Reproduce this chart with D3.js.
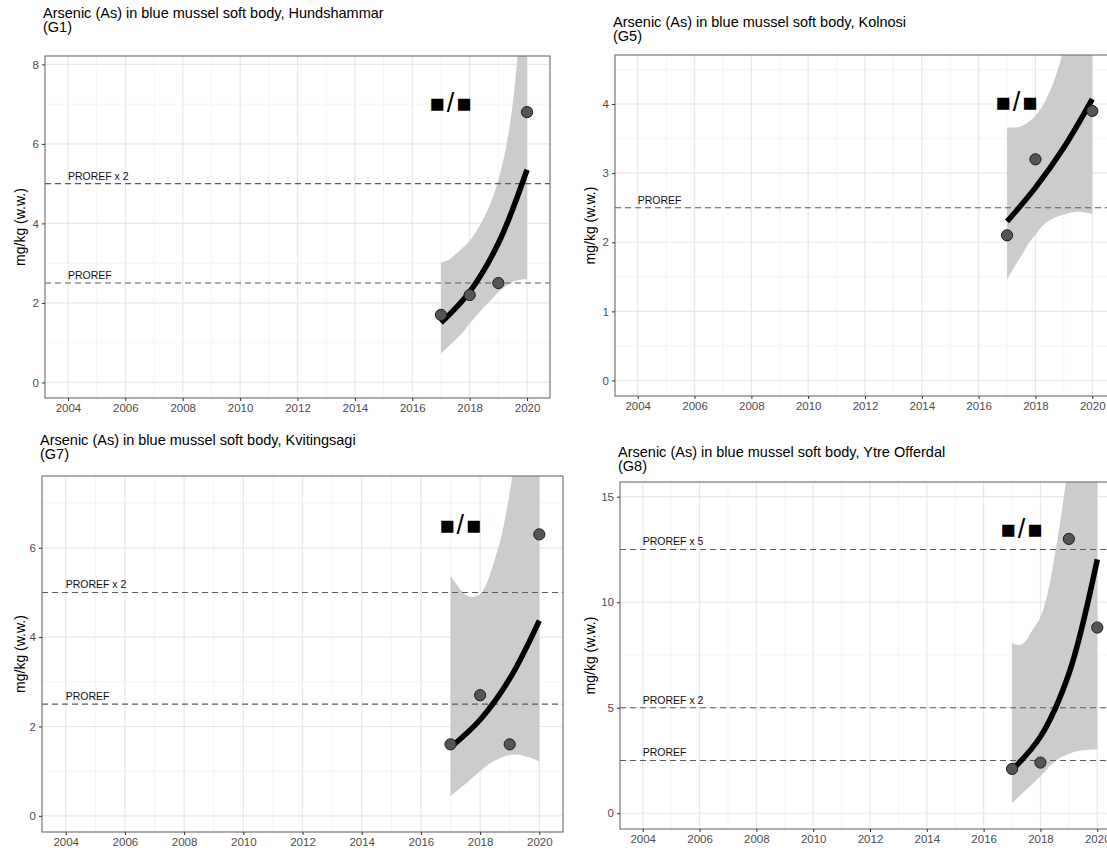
<!DOCTYPE html>
<html>
<head>
<meta charset="utf-8">
<script src="https://cdn.jsdelivr.net/npm/d3@7"></script>
<style>
  body { margin: 0; background: #fff; }
  svg text { font-family: "Liberation Sans", Arial, sans-serif; }
</style>
</head>
<body>
<svg id="chart" width="1107" height="848"></svg>
<script>
// ---- data -------------------------------------------------------------
const stationNames = ["Hundshammar", "Kolnosi", "Kvitingsagi", "Ytre Offerdal"];
const stationCodes = ["G1", "G5", "G7", "G8"];
const sampleYears = [2017, 2018, 2019, 2020];

// measured arsenic concentrations, mg/kg w.w. (null = no sample)
const arsenicG1 = [1.7, 2.2, 2.5, 6.8];
const arsenicG5 = [2.1, 3.2, null, 3.9];
const arsenicG7 = [1.6, 2.7, 1.6, 6.3];
const arsenicG8 = [2.1, 2.4, 13.0, 8.8];

// fitted trend at each sample year
const trendG1 = [1.50, 2.28, 3.50, 5.35];
const trendG5 = [2.30, 2.79, 3.37, 4.07];
const trendG7 = [1.53, 2.15, 3.07, 4.37];
const trendG8 = [2.05, 3.63, 6.61, 12.03];

// confidence band of the trend
const bandYears = [2017, 2017.25, 2017.5, 2017.75, 2018, 2018.25, 2018.5, 2018.75, 2019, 2019.25, 2019.5, 2019.75, 2020];
const bandLowG1  = [0.73, 0.90, 1.07, 1.25, 1.48, 1.69, 1.89, 2.08, 2.27, 2.42, 2.53, 2.58, 2.60];
const bandHighG1 = [3.02, 3.08, 3.22, 3.38, 3.56, 3.82, 4.14, 4.55, 5.10, 5.85, 7.00, 8.90, 11.5];
const bandLowG5  = [1.46, 1.64, 1.80, 1.98, 2.11, 2.24, 2.32, 2.37, 2.40, 2.43, 2.44, 2.43, 2.41];
const bandHighG5 = [3.66, 3.66, 3.68, 3.74, 3.83, 3.97, 4.18, 4.45, 4.80, 5.20, 5.70, 6.20, 6.80];
const bandLowG7  = [0.44, 0.58, 0.71, 0.86, 1.00, 1.13, 1.24, 1.31, 1.36, 1.37, 1.34, 1.29, 1.22];
const bandHighG7 = [5.38, 5.14, 4.95, 4.90, 4.96, 5.25, 5.75, 6.35, 7.23, 8.40, 9.80, 11.5, 13.5];
const bandLowG8  = [0.49, 0.80, 1.12, 1.43, 1.75, 2.12, 2.45, 2.66, 2.82, 2.93, 2.98, 3.01, 3.02];
const bandHighG8 = [8.07, 7.97, 8.20, 8.75, 9.30, 10.4, 12.2, 14.3, 16.8, 19.5, 22.5, 26.0, 30.0];

// reference levels (PROREF multiples) shown in each panel
const prorefLevelsG1 = [2.5, 5.0];
const prorefLevelsG5 = [2.5];
const prorefLevelsG7 = [2.5, 5.0];
const prorefLevelsG8 = [2.5, 5.0, 12.5];
const prorefLabels = { 2.5: "PROREF", 5.0: "PROREF x 2", 12.5: "PROREF x 5" };

// axis ticks
const xTickYears = [2004, 2006, 2008, 2010, 2012, 2014, 2016, 2018, 2020];
const yTicksG1 = [0, 2, 4, 6, 8];
const yTicksG5 = [0, 1, 2, 3, 4];
const yTicksG7 = [0, 2, 4, 6];
const yTicksG8 = [0, 5, 10, 15];

// y-axis upper data limit of each panel, and the trend-symbol anchor
const yMaxG1 = 7.82, yMaxG5 = 4.485, yMaxG7 = 7.245, yMaxG8 = 14.95;
const trendSymbolParts = ["\u25A0", "/", "\u25A0"];
const symbolYear = 2017.33;

// ---- panel layout -----------------------------------------------------
const panels = [
  { code: 0, values: arsenicG1, trend: trendG1, low: bandLowG1, high: bandHighG1, refs: prorefLevelsG1, yTicks: yTicksG1, yMax: yMaxG1,
    box: { left: 45, right: 550, top: 56, bottom: 398 }, titleGap: 24, yTitleX: 20 },
  { code: 1, values: arsenicG5, trend: trendG5, low: bandLowG5, high: bandHighG5, refs: prorefLevelsG5, yTicks: yTicksG5, yMax: yMaxG5,
    box: { left: 615, right: 1115, top: 55, bottom: 396 }, titleGap: 14, yTitleX: 590 },
  { code: 2, values: arsenicG7, trend: trendG7, low: bandLowG7, high: bandHighG7, refs: prorefLevelsG7, yTicks: yTicksG7, yMax: yMaxG7,
    box: { left: 42, right: 563, top: 476, bottom: 832 }, titleGap: 17, yTitleX: 20 },
  { code: 3, values: arsenicG8, trend: trendG8, low: bandLowG8, high: bandHighG8, refs: prorefLevelsG8, yTicks: yTicksG8, yMax: yMaxG8,
    box: { left: 620, right: 1120, top: 482, bottom: 829 }, titleGap: 11, yTitleX: 590 }
];

const svg = d3.select("#chart");
svg.append("rect").attr("width", 1107).attr("height", 848).attr("fill", "#fff");

panels.forEach((p, i) => {
  const b = p.box;
  const x = d3.scaleLinear().domain([2003.2, 2020.8]).range([b.left, b.right]);
  const y = d3.scaleLinear().domain([-0.05 * p.yMax, 1.05 * p.yMax]).range([b.bottom, b.top]);
  const g = svg.append("g");

  const clipId = "clip" + i;
  svg.append("clipPath").attr("id", clipId)
    .append("rect").attr("x", b.left).attr("y", b.top)
    .attr("width", b.right - b.left).attr("height", b.bottom - b.top);

  // grid: minor lines half way between the major ones
  const yStep = p.yTicks[1] - p.yTicks[0];
  const yMinor = d3.range(p.yTicks[0] + yStep / 2, y.domain()[1], yStep);
  const xMinor = d3.range(2005, 2020, 2);
  const grid = g.append("g").attr("clip-path", `url(#${clipId})`);
  grid.selectAll(".xm").data(xMinor).join("line")
    .attr("x1", d => x(d)).attr("x2", d => x(d)).attr("y1", b.top).attr("y2", b.bottom)
    .attr("stroke", "#f1f1f1").attr("stroke-width", 0.8);
  grid.selectAll(".ym").data(yMinor).join("line")
    .attr("x1", b.left).attr("x2", b.right).attr("y1", d => y(d)).attr("y2", d => y(d))
    .attr("stroke", "#f1f1f1").attr("stroke-width", 0.8);
  grid.selectAll(".xM").data(xTickYears).join("line")
    .attr("x1", d => x(d)).attr("x2", d => x(d)).attr("y1", b.top).attr("y2", b.bottom)
    .attr("stroke", "#e8e8e8").attr("stroke-width", 1.2);
  grid.selectAll(".yM").data(p.yTicks).join("line")
    .attr("x1", b.left).attr("x2", b.right).attr("y1", d => y(d)).attr("y2", d => y(d))
    .attr("stroke", "#e8e8e8").attr("stroke-width", 1.2);

  const plot = g.append("g").attr("clip-path", `url(#${clipId})`);

  // confidence band
  const band = bandYears.map((yr, k) => ({ yr, lo: p.low[k], hi: p.high[k] }));
  plot.append("path").datum(band)
    .attr("fill", "#cccccc")
    .attr("d", d3.area().x(d => x(d.yr)).y0(d => y(d.lo)).y1(d => y(d.hi)).curve(d3.curveMonotoneX));

  // reference levels
  plot.selectAll(".ref").data(p.refs).join("line")
    .attr("x1", b.left).attr("x2", b.right).attr("y1", d => y(d)).attr("y2", d => y(d))
    .attr("stroke", "#5a5a5a").attr("stroke-width", 1.1).attr("stroke-dasharray", "6,4");
  plot.selectAll(".refLabel").data(p.refs).join("text")
    .attr("x", x(2004)).attr("y", d => y(d) - 4)
    .attr("font-size", 10.5).attr("fill", "#111")
    .text(d => prorefLabels[d]);

  // trend line
  const trendPts = sampleYears.map((yr, k) => ({ yr, v: p.trend[k] }));
  plot.append("path").datum(trendPts)
    .attr("fill", "none").attr("stroke", "#000").attr("stroke-width", 5.5)
    .attr("d", d3.line().x(d => x(d.yr)).y(d => y(d.v)).curve(d3.curveCatmullRom));

  // measured values
  const pts = sampleYears.map((yr, k) => ({ yr, v: p.values[k] })).filter(d => d.v !== null);
  plot.selectAll(".pt").data(pts).join("circle")
    .attr("cx", d => x(d.yr)).attr("cy", d => y(d.v)).attr("r", 5.6)
    .attr("fill", "#555").attr("stroke", "#1c1c1c").attr("stroke-width", 1);

  // trend symbol: square / square, spread a little apart
  const sx = x(symbolYear), sy = y(0.9 * p.yMax);
  const sym = g.append("text")
    .attr("x", sx).attr("y", sy)
    .attr("text-anchor", "middle").attr("dominant-baseline", "central")
    .attr("font-family", "DejaVu Sans").attr("font-size", 25);
  sym.selectAll("tspan").data(trendSymbolParts).join("tspan")
    .attr("dx", (d, k) => k === 0 ? 0 : 2)
    .attr("font-size", d => d === "/" ? 27 : 25)
    .text(d => d);

  // panel border
  g.append("rect").attr("x", b.left).attr("y", b.top)
    .attr("width", b.right - b.left).attr("height", b.bottom - b.top)
    .attr("fill", "none").attr("stroke", "#6b6b6b").attr("stroke-width", 1.1);

  // axes
  const xAxis = d3.axisBottom(x).tickValues(xTickYears).tickFormat(d3.format("d")).tickSize(3).tickPadding(3);
  const yAxis = d3.axisLeft(y).tickValues(p.yTicks).tickFormat(d3.format("d")).tickSize(3).tickPadding(3);
  const gx = g.append("g").attr("transform", `translate(0,${b.bottom})`).call(xAxis);
  const gy = g.append("g").attr("transform", `translate(${b.left},0)`).call(yAxis);
  [gx, gy].forEach(a => {
    a.select(".domain").remove();
    a.selectAll(".tick line").attr("stroke", "#333");
    a.selectAll(".tick text").attr("fill", "#4d4d4d").attr("font-size", 11.5)
      .attr("font-family", "Liberation Sans, Arial, sans-serif");
  });

  // titles
  const titleX = b.left - 2;
  const title = g.append("text").attr("x", titleX).attr("y", b.top - p.titleGap - 14.5)
    .attr("font-size", 14.5).attr("fill", "#000");
  title.append("tspan").attr("x", titleX).text(`Arsenic (As) in blue mussel soft body, ${stationNames[p.code]}`);
  title.append("tspan").attr("x", titleX).attr("dy", 14.5).text(`(${stationCodes[p.code]})`);

  g.append("text")
    .attr("transform", `translate(${p.yTitleX},${(b.top + b.bottom) / 2}) rotate(-90)`)
    .attr("text-anchor", "middle").attr("dominant-baseline", "central")
    .attr("font-size", 14).attr("fill", "#000")
    .text("mg/kg (w.w.)");
});
</script>
</body>
</html>
